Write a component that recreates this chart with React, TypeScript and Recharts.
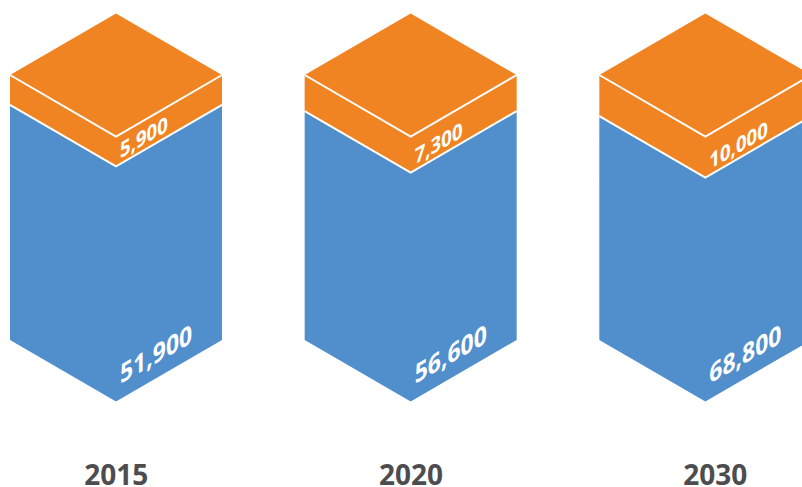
import React from 'react';
import { BarChart, Bar, XAxis, YAxis } from 'recharts';

const years = ['2015', '2020', '2030'];
const blueValues = [51900, 56600, 68800];
const orangeValues = [5900, 7300, 10000];
// share of the pillar's front height each layer occupies
const blueShare = [88.7, 86.4, 84.5];
const orangeShare = [11.3, 13.6, 15.5];

const data = years.map((year, i) => ({
  year,
  blue: blueShare[i],
  orange: orangeShare[i],
  blueLabel: blueValues[i].toLocaleString('en-US'),
  orangeLabel: orangeValues[i].toLocaleString('en-US'),
}));

const BLUE = '#508ecc';
const ORANGE = '#f08422';
const FONT = '"Open Sans", sans-serif';
const RISE = 61.5;

const valueText = (cx: number, baseY: number, text: string, size: number) => (
  <text
    transform={`matrix(0.866,-0.5,0,1,${cx + 4},${baseY})`}
    fontFamily={FONT}
    fontWeight={700}
    fontSize={size}
    fill="#ffffff"
    textAnchor="start"
  >
    {text}
  </text>
);

const BlueShape = (p: any) => {
  const { x, y, width, height, payload } = p;
  const cx = x + width / 2;
  const r = x + width;
  const b = y + height;
  return (
    <g>
      <polygon
        points={`${x},${y} ${cx},${y + RISE} ${r},${y} ${r},${b} ${cx},${b + RISE} ${x},${b}`}
        fill={BLUE}
      />
      {valueText(cx, b + RISE - 17.5, payload.blueLabel, 26.5)}
    </g>
  );
};

const OrangeShape = (p: any) => {
  const { x, y, width, height, payload } = p;
  const cx = x + width / 2;
  const r = x + width;
  const b = y + height;
  return (
    <g>
      <polygon
        points={`${x},${y} ${cx},${y - RISE} ${r},${y} ${r},${b} ${cx},${b + RISE} ${x},${b}`}
        fill={ORANGE}
      />
      <polyline
        points={`${x},${y} ${cx},${y + RISE} ${r},${y}`}
        fill="none"
        stroke="#ffffff"
        strokeWidth={2}
      />
      <polyline
        points={`${x},${b} ${cx},${b + RISE} ${r},${b}`}
        fill="none"
        stroke="#ffffff"
        strokeWidth={2}
      />
      {valueText(cx, b + RISE - 8, payload.orangeLabel, 21.5)}
    </g>
  );
};

// the last year label sits a little right of its pillar's centre in the reference
const YearTick = (p: any) => (
  <text
    x={p.x + (p.index === years.length - 1 ? 9.5 : 0)}
    y={p.y}
    dy={29}
    textAnchor="middle"
    fontFamily={FONT}
    fontWeight={700}
    fontSize={28}
    fill="#4d4d4f"
  >
    {p.payload.value}
  </text>
);

export default function App() {
  return (
    <div style={{ position: 'absolute', left: 0, top: 0, width: 802, height: 487, overflow: 'hidden', background: '#fff' }}>
      <BarChart
        width={853}
        height={487}
        data={data}
        margin={{ top: 75, right: 0, bottom: 0, left: -31 }}
        barCategoryGap={0}
      >
        <XAxis
          dataKey="year"
          axisLine={false}
          tickLine={false}
          height={147}
          tickMargin={110}
          interval={0}
          tick={YearTick}
        />
        <YAxis hide domain={[0, 100]} />
        <Bar dataKey="blue" stackId="a" barSize={212} shape={BlueShape} isAnimationActive={false} />
        <Bar dataKey="orange" stackId="a" barSize={212} shape={OrangeShape} isAnimationActive={false} />
      </BarChart>
    </div>
  );
}
